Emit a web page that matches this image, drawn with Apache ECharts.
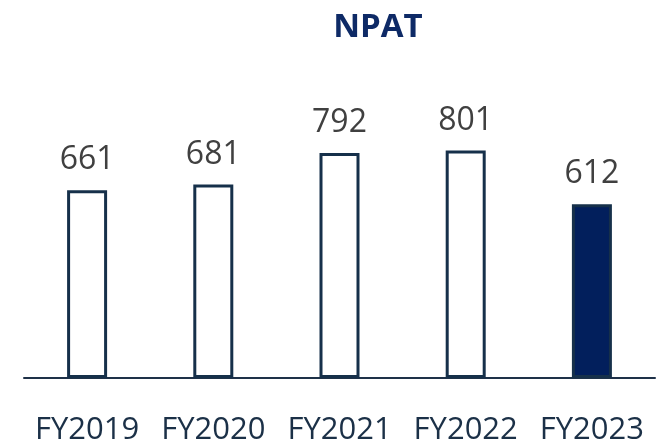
<!DOCTYPE html>
<html>
<head>
<meta charset="utf-8">
<style>
  html, body { margin: 0; padding: 0; background: #ffffff; }
  #chart { width: 667px; height: 446px; }
</style>
<script src="https://cdn.jsdelivr.net/npm/echarts@6/dist/echarts.min.js"></script>
</head>
<body>
<div id="chart"></div>
<script>
// Net profit after tax by financial year
const categories = ['FY2019', 'FY2020', 'FY2021', 'FY2022', 'FY2023'];
const npatValues = [661, 681, 792, 801, 612];
const highlightYear = 'FY2023';

const FONT = '"Open Sans", "Noto Sans", sans-serif';
const OUTLINE = '#16304a';
const NAVY = '#021f5c';

const chart = echarts.init(document.getElementById('chart'), null, { renderer: 'canvas' });

chart.setOption({
  animation: false,
  backgroundColor: '#ffffff',
  title: {
    text: 'NPAT',
    left: 373,
    top: 6,
    textAlign: 'center',
    textStyle: { fontFamily: FONT, fontWeight: 'bold', fontSize: 33, color: '#0e2a66' }
  },
  grid: { left: 24, right: 12, top: 94, bottom: 62, containLabel: false },
  xAxis: {
    type: 'category',
    data: categories,
    axisLine: { lineStyle: { color: '#1e3148', width: 2 } },
    axisTick: { show: false },
    axisLabel: { fontFamily: FONT, fontSize: 31, color: '#1b3047', margin: 37, interval: 0 }
  },
  yAxis: {
    type: 'value',
    min: 0,
    max: 1000,
    show: false
  },
  series: [{
    type: 'bar',
    barWidth: 40,
    data: categories.map((c, i) => ({
      value: npatValues[i],
      itemStyle: {
        color: c === highlightYear ? NAVY : '#ffffff',
        borderColor: OUTLINE,
        borderWidth: 3
      }
    })),
    label: {
      show: true,
      position: 'top',
      distance: 14,
      fontFamily: FONT,
      fontSize: 32,
      color: '#404040'
    }
  }]
});
</script>
</body>
</html>
